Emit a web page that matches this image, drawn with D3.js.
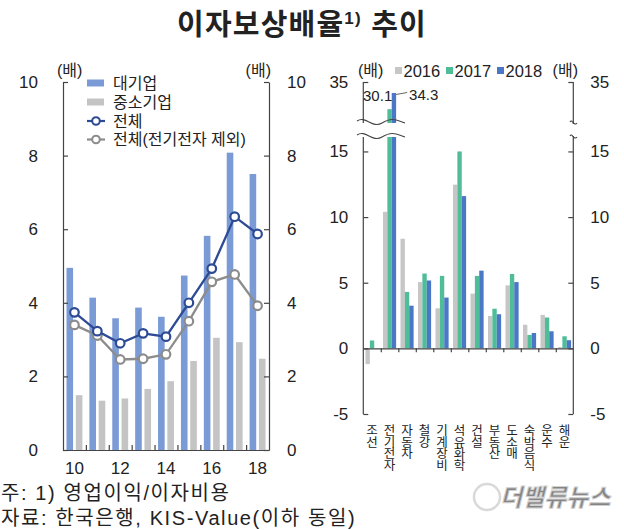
<!DOCTYPE html>
<html><head><meta charset="utf-8">
<script src="https://cdn.jsdelivr.net/npm/d3@7"></script>
<style>
body{margin:0;background:#fff}
svg{display:block}
text{font-family:"Liberation Sans","Noto Sans CJK KR",sans-serif;fill:#222}
</style>
</head><body>
<svg id="c" width="624" height="530"></svg>
<script>
// ---------- data: left panel ----------
const years = [2010,2011,2012,2013,2014,2015,2016,2017,2018];
const yearTicks = [2010,2012,2014,2016,2018];
const large = [4.95,4.14,3.58,3.87,3.62,4.74,5.82,8.08,7.50];
const sme = [1.49,1.34,1.40,1.66,1.87,2.42,3.05,2.93,2.48];
const total = [3.74,3.23,2.90,3.17,3.08,4.00,4.93,6.34,5.87];
const totalExElec = [3.40,3.11,2.46,2.48,2.60,3.50,4.57,4.77,3.92];
const leftTicks = [0,2,4,6,8,10];
const leftLegend = ["대기업","중소기업","전체","전체(전기전자 제외)"];

// ---------- data: right panel ----------
const industries = ["조선","전기전자","자동차","철강","기계장비","석유화학","건설","부동산","도소매","숙박음식","운수","해운"];
const seriesNames = ["2016","2017","2018"];
const v2016 = [-1.2,10.4,8.35,5.05,3.05,12.47,4.17,2.47,4.8,1.8,2.55,0.1];
const v2017 = [0.6,30.1,4.3,5.7,5.52,15.0,5.52,3.02,5.67,1.02,2.35,0.92];
const v2018 = [0,34.3,3.25,5.17,3.87,11.6,5.92,2.6,5.05,1.17,1.3,0.62];
const rightTicks = [-5,0,5,10,15,35];

const title = "이자보상배율";
const notes = ["주: 1) 영업이익/이자비용","자료: 한국은행, KIS-Value(이하 동일)"];

const FONT = '"Liberation Sans","Noto Sans CJK KR",sans-serif';
const C = {large:"#7b9bd6", sme:"#c4c4c4", total:"#2d4b94", ex:"#8c8c8c",
           s2016:"#c6c6c6", s2017:"#4fbd98", s2018:"#4a77c6", axis:"#444"};

const svg = d3.select("#c");

// ---------- title ----------
const t = svg.append("text").attr("x",302).attr("y",35).attr("text-anchor","middle")
  .style("font-size","29px").style("font-weight","bold").style("letter-spacing","1.2px");
t.append("tspan").text(title);
t.append("tspan").attr("dy",-11).style("font-size","17px").text("1)");
t.append("tspan").attr("dy",11).text("  추이");

// ================= LEFT PANEL =================
const x = d3.scaleBand().domain(years).range([63,269]);
const inner = d3.scaleBand().domain(["large","sme"]).range([0,x.bandwidth()]).paddingInner(0.29).paddingOuter(0.375);
const y = d3.scaleLinear().domain([0,10]).range([450,82]);

const L = svg.append("g");
L.selectAll(".bl").data(large).join("rect")
  .attr("x",(d,i)=>x(years[i])+inner("large")).attr("width",inner.bandwidth())
  .attr("y",d=>y(d)).attr("height",d=>y(0)-y(d)).attr("fill",C.large);
L.selectAll(".bs").data(sme).join("rect")
  .attr("x",(d,i)=>x(years[i])+inner("sme")).attr("width",inner.bandwidth())
  .attr("y",d=>y(d)).attr("height",d=>y(0)-y(d)).attr("fill",C.sme);

function styleAxis(g, fs){
  g.selectAll("path,line").attr("stroke",C.axis).attr("stroke-width",1.2);
  g.selectAll("text").style("font-size",fs).attr("fill","#222").style("font-family",FONT);
}
const fmt = d=>String(d);
const ax1 = L.append("g").attr("transform","translate(63,0)")
  .call(d3.axisLeft(y).tickValues(leftTicks).tickFormat(fmt).tickSizeInner(-5).tickSizeOuter(0).tickPadding(25));
styleAxis(ax1,"17px");
const ax2 = L.append("g").attr("transform","translate(269,0)")
  .call(d3.axisRight(y).tickValues(leftTicks).tickFormat(fmt).tickSizeInner(-5).tickSizeOuter(0).tickPadding(18));
styleAxis(ax2,"17px");
const idx = d3.scaleLinear().domain([0,years.length]).range([63,269]);
const ax3 = L.append("g").attr("transform","translate(0,450)")
  .call(d3.axisBottom(idx).tickValues(d3.range(1,years.length)).tickSizeInner(-5).tickSizeOuter(0).tickFormat(""));
styleAxis(ax3,"17px");
const ax4 = L.append("g").attr("transform","translate(0,450)")
  .call(d3.axisBottom(x).tickValues(yearTicks).tickSize(0).tickPadding(12).tickFormat(d=>String(d).slice(2)));
styleAxis(ax4,"17px");
ax4.select("path").remove();

const cx = (i)=>x(years[i])+x.bandwidth()/2;
const line = d3.line().x((d,i)=>cx(i)).y(d=>y(d));
[[totalExElec,C.ex],[total,C.total]].forEach(([arr,col])=>{
  L.append("path").datum(arr).attr("d",line).attr("fill","none").attr("stroke",col).attr("stroke-width",2.3);
  L.selectAll(null).data(arr).join("circle").attr("cx",(d,i)=>cx(i)).attr("cy",d=>y(d)).attr("r",4.3)
    .attr("fill","#fff").attr("stroke",col).attr("stroke-width",2.2);
});

L.append("text").attr("x",57).attr("y",76).style("font-size","16px").text("(배)");
L.append("text").attr("x",271).attr("y",76).attr("text-anchor","end").style("font-size","16px").text("(배)");

// legend left
const lg = L.append("g");
const lgy = [83,102,121,139.5];
lg.append("rect").attr("x",87).attr("y",lgy[0]-3.5).attr("width",17).attr("height",7).attr("fill",C.large);
lg.append("rect").attr("x",87).attr("y",lgy[1]-3.5).attr("width",17).attr("height",7).attr("fill",C.sme);
[[2,C.total],[3,C.ex]].forEach(([k,col])=>{
  lg.append("line").attr("x1",87).attr("x2",105).attr("y1",lgy[k]).attr("y2",lgy[k]).attr("stroke",col).attr("stroke-width",2.2);
  lg.append("circle").attr("cx",96).attr("cy",lgy[k]).attr("r",3.8).attr("fill","#fff").attr("stroke",col).attr("stroke-width",2);
});
leftLegend.forEach((s,i)=>lg.append("text").attr("x",113).attr("y",lgy[i]+5.5).style("font-size","16px").text(s));

// ================= RIGHT PANEL =================
const xr = d3.scaleBand().domain(industries).range([363.3,573.3]);
const ir = d3.scaleBand().domain(seriesNames).range([0,xr.bandwidth()]).paddingOuter(0.5);
const yr = d3.scaleLinear().domain([-5,16.1,26.5,34.3,35]).range([414,137,123,93,82]);

const R = svg.append("g");
const seriesVals = [v2016,v2017,v2018];
const seriesCols = [C.s2016,C.s2017,C.s2018];
seriesVals.forEach((arr,k)=>{
  R.selectAll(null).data(arr).join("rect")
    .attr("x",(d,i)=>xr(industries[i])+ir(seriesNames[k])).attr("width",ir.bandwidth())
    .attr("y",d=>yr(Math.max(d,0))).attr("height",d=>Math.abs(yr(d)-yr(0)))
    .attr("fill",seriesCols[k]);
});

const ar1 = R.append("g").attr("transform","translate(363.3,0)")
  .call(d3.axisLeft(yr).tickValues(rightTicks).tickFormat(fmt).tickSizeInner(-5).tickSizeOuter(0).tickPadding(15));
styleAxis(ar1,"17px");
ar1.select(".domain").attr("d","M0,82V414");
const ar2 = R.append("g").attr("transform","translate(573.3,0)")
  .call(d3.axisRight(yr).tickValues(rightTicks).tickFormat(fmt).tickSizeInner(-5).tickSizeOuter(0).tickPadding(17));
styleAxis(ar2,"17px");
ar2.select(".domain").attr("d","M0,82V414");
const idr = d3.scaleLinear().domain([0,industries.length]).range([363.3,573.3]);
const ar3 = R.append("g").attr("transform",`translate(0,${yr(0)})`)
  .call(d3.axisBottom(idr).tickValues(d3.range(1,industries.length)).tickSizeInner(4).tickSizeOuter(0).tickFormat(""));
styleAxis(ar3,"12px");

// axis break
const yb1 = yr(26.5), yb2 = yr(16.1);
R.append("rect").attr("x",354).attr("y",yb1).attr("width",52).attr("height",yb2-yb1).attr("fill","#fff");
R.append("rect").attr("x",568).attr("y",yb1+1).attr("width",10).attr("height",yb2-yb1-2).attr("fill","#fff");
[yb1,yb2].forEach(yy=>{
  R.append("path").attr("d",`M357,${yy-2} C366,${yy-8} 372,${yy+6} 382,${yy} S396,${yy-3} 405,${yy}`)
    .attr("fill","none").attr("stroke",C.axis).attr("stroke-width",1.1);
  R.append("path").attr("d",`M570,${yy-1} C572,${yy-5} 574,${yy+4} 577,${yy}`)
    .attr("fill","none").attr("stroke",C.axis).attr("stroke-width",1.1);
});

// value labels for the broken bars
const i1 = industries.indexOf("전기전자");
R.append("text").attr("x",xr(industries[i1])+ir("2017")+ir.bandwidth()+0.5).attr("y",yr(v2018[i1])+8)
  .attr("text-anchor","end").style("font-size","15px").text(v2017[i1].toFixed(1));
const bx = xr(industries[i1])+ir("2018")+ir.bandwidth();
R.append("line").attr("x1",bx).attr("y1",yr(v2018[i1])+1.5).attr("x2",bx+11).attr("y2",yr(v2018[i1])-0.5)
  .attr("stroke","#666").attr("stroke-width",1);
R.append("text").attr("x",bx+13).attr("y",yr(v2018[i1])+7).style("font-size","15px").text(v2018[i1].toFixed(1));

// category labels (vertical writing)
industries.forEach((s,i)=>{
  R.append("text").style("writing-mode","vertical-rl").style("text-orientation","upright")
    .style("font-family",'"Noto Sans CJK KR",sans-serif')
    .style("font-size","12.5px").style("letter-spacing","-1px")
    .attr("x",xr(s)+xr.bandwidth()/2).attr("y",424).text(s);
});

// right legend & units
R.append("text").attr("x",358).attr("y",76).style("font-size","16px").text("(배)");
R.append("text").attr("x",578).attr("y",76).attr("text-anchor","end").style("font-size","16px").text("(배)");
const legX = [395,446,497];
seriesNames.forEach((s,k)=>{
  R.append("rect").attr("x",legX[k]).attr("y",67).attr("width",7).attr("height",7).attr("fill",seriesCols[k]);
  R.append("text").attr("x",legX[k]+8.5).attr("y",77).style("font-size","16.5px").text(s);
});

// ---------- notes ----------
notes.forEach((s,i)=>svg.append("text").attr("x",1).attr("y",500+i*25)
  .style("font-size","20px").style("letter-spacing","1.6px").text(s));

// watermark
const wm = svg.append("g").attr("opacity",0.55);
wm.append("circle").attr("cx",487).attr("cy",497).attr("r",13).attr("fill","none").attr("stroke","#bbb").attr("stroke-width",2.5);
wm.append("text").attr("x",500).attr("y",506).style("font-size","24px").style("font-weight","bold").style("font-style","italic")
  .attr("fill","#e8e8e8").attr("stroke","#aaa").attr("stroke-width",1).text("더밸류뉴스");
</script>
</body></html>
